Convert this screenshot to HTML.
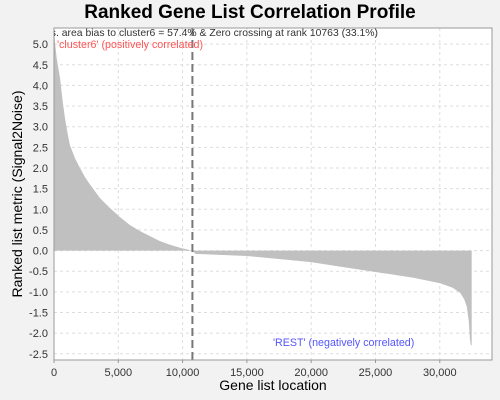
<!DOCTYPE html>
<html><head><meta charset="utf-8"><style>
html,body{margin:0;padding:0;background:#f2f2f2;}
svg{display:block;font-family:"Liberation Sans",sans-serif;}
</style></head><body>
<svg id="chart" width="500" height="400">
<rect x="0" y="0" width="500" height="400" fill="#f2f2f2"/>
<text x="250" y="18" text-anchor="middle" font-size="19" font-weight="bold" fill="#000">Ranked Gene List Correlation Profile</text>
<defs><clipPath id="pc"><rect x="54" y="28" width="438" height="332"/></clipPath></defs>
<rect x="54" y="28" width="438" height="332" fill="#fff"/>
<g id="grid"></g>
<g id="area" clip-path="url(#pc)"></g>
<g id="axes"></g>
<rect x="54" y="28" width="438" height="332" fill="none" stroke="#999" stroke-width="1"/>
<g clip-path="url(#pc)">
<text x="378" y="36" text-anchor="end" font-size="10.4" fill="#333">Pos. area bias to cluster6 = 57.4% &amp; Zero crossing at rank 10763 (33.1%)</text>
</g>
<text x="57" y="48" font-size="10.7" fill="#ff5555">'cluster6' (positively correlated)</text>
<text x="273" y="346" font-size="10.7" fill="#5555ff">'REST' (negatively correlated)</text>
<text x="273" y="390" text-anchor="middle" font-size="14" fill="#000">Gene list location</text>
<text transform="translate(22,194) rotate(-90)" text-anchor="middle" font-size="14" fill="#000">Ranked list metric (Signal2Noise)</text>
</svg>
<script>
const ranks = [0, 60, 210, 335, 470, 660, 855, 1050, 1240, 1630, 2020, 2410, 2800, 3580, 4350, 5130, 5900, 6690, 7460, 8240, 9020, 9900, 10763, 10900, 11000, 15000, 20000, 22240, 25000, 26130, 28000, 30020, 31000, 31580, 31900, 32100, 32250, 32350, 32400, 32480];
const values = [5.4, 5.1, 4.66, 4.42, 4.18, 3.65, 3.2, 2.85, 2.55, 2.24, 2.0, 1.78, 1.6, 1.27, 1.03, 0.81, 0.62, 0.47, 0.35, 0.23, 0.14, 0.06, 0.0, -0.05, -0.08, -0.13, -0.28, -0.39, -0.52, -0.57, -0.66, -0.79, -0.9, -1.02, -1.18, -1.36, -1.7, -2.15, -2.28, -2.3];
const xTicks = [0, 5000, 10000, 15000, 20000, 25000, 30000];
const xTickLabels = ["0", "5,000", "10,000", "15,000", "20,000", "25,000", "30,000"];
const yTicks = [5.0, 4.5, 4.0, 3.5, 3.0, 2.5, 2.0, 1.5, 1.0, 0.5, 0.0, -0.5, -1.0, -1.5, -2.0, -2.5];
const zeroCross = [10763];
const NS = "http://www.w3.org/2000/svg";
const L=54,R=492,T=28,B=360,XMAX=34060,YMAX=5.39,YMIN=-2.65;
const xs = v => L + v/XMAX*(R-L);
const ys = v => T + (YMAX-v)/(YMAX-YMIN)*(B-T);
function mk(tag, attrs, parent){const e=document.createElementNS(NS,tag);for(const k in attrs)e.setAttribute(k,attrs[k]);parent.appendChild(e);return e;}
const grid=document.getElementById('grid'), axes=document.getElementById('axes'), area=document.getElementById('area');
xTicks.forEach((t,i)=>{
  const g=mk('line',{x1:xs(t),x2:xs(t),y1:T,y2:B,stroke:'#ddd','stroke-dasharray':'3,3'},grid);
  
  
  const tk=mk('line',{x1:xs(t),x2:xs(t),y1:B,y2:B+3,stroke:'#999'},axes);
  
  
  const tx=mk('text',{x:xs(t),y:B+16,'text-anchor':'middle','font-size':'11',fill:'#333'},axes);
  tx.textContent=xTickLabels[i];
  
  
});
yTicks.forEach(t=>{
  const g=mk('line',{x1:L,x2:R,y1:ys(t),y2:ys(t),stroke:'#ddd','stroke-dasharray':'3,3'},grid);
  
  
  const tx=mk('text',{x:L-6,y:ys(t)+4,'text-anchor':'end','font-size':'11',fill:'#333'},axes);
  tx.textContent=t.toFixed(1);
  
  
});
let d='M'+xs(ranks[0])+','+ys(0);
ranks.forEach((r,i)=>{d+=' L'+xs(r)+','+ys(values[i]);});
d+=' L'+xs(ranks[ranks.length-1])+','+ys(0)+' Z';
const p=mk('path',{d:d,fill:'#c0c0c0',stroke:'none'},area);


zeroCross.forEach(z=>{
  const l=mk('line',{x1:xs(z),x2:xs(z),y1:T,y2:B,stroke:'#777','stroke-width':'2','stroke-dasharray':'8,4'},area);
  
  
});
</script>
</body></html>
